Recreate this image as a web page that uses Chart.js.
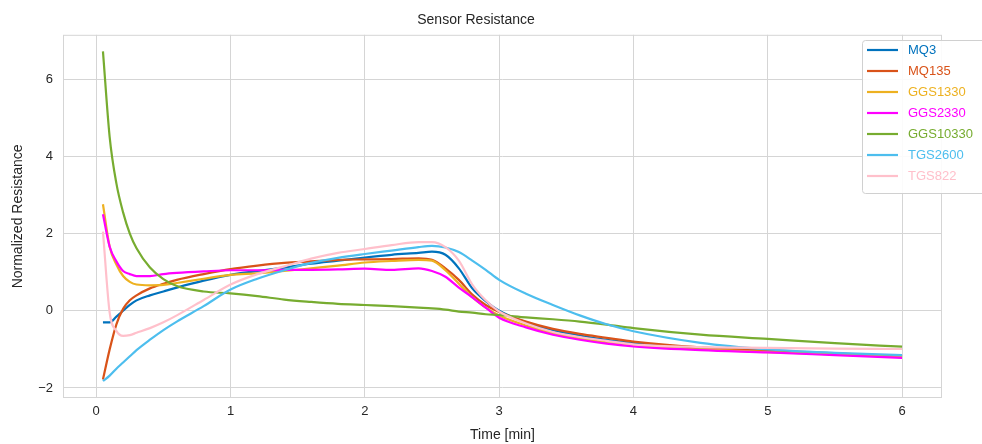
<!DOCTYPE html>
<html>
<head>
<meta charset="utf-8">
<script src="https://cdn.jsdelivr.net/npm/chart.js@4"></script>
<style>
  html, body { margin: 0; padding: 0; background: #fff; }
  #wrap { width: 982px; height: 444px; }
</style>
</head>
<body>
<div id="wrap"><canvas id="sensorChart" width="982" height="444"></canvas></div>
<script>
// time axis [min]
const timeMin = [0.05, 0.1, 0.15, 0.2, 0.25, 0.3, 0.4, 0.5, 0.6, 0.8, 1.0, 1.2, 1.4, 1.6, 1.8, 2.0, 2.2, 2.4, 2.5, 2.6, 2.7, 2.8, 2.9, 3.0, 3.2, 3.4, 3.6, 3.8, 4.0, 4.5, 5.0, 5.5, 6.0];

const mq3      = [-0.3, -0.3, -0.15, 0.0, 0.15, 0.27, 0.4, 0.5, 0.6, 0.78, 0.93, 1.03, 1.12, 1.22, 1.3, 1.38, 1.45, 1.5, 1.53, 1.45, 1.1, 0.58, 0.25, 0.0, -0.3, -0.5, -0.64, -0.75, -0.83, -0.97, -1.05, -1.12, -1.18];
const mq135    = [-1.78, -1.0, -0.35, 0.05, 0.27, 0.4, 0.58, 0.7, 0.8, 0.95, 1.08, 1.17, 1.24, 1.28, 1.32, 1.33, 1.34, 1.36, 1.32, 1.1, 0.8, 0.42, 0.15, -0.03, -0.28, -0.47, -0.6, -0.7, -0.8, -0.95, -1.03, -1.1, -1.18];
const ggs1330  = [2.76, 1.66, 1.2, 0.9, 0.75, 0.68, 0.66, 0.67, 0.72, 0.83, 0.93, 0.97, 1.03, 1.1, 1.17, 1.25, 1.29, 1.32, 1.3, 1.05, 0.7, 0.35, 0.08, -0.12, -0.38, -0.58, -0.72, -0.82, -0.9, -1.0, -1.07, -1.13, -1.2];
const ggs2330  = [2.5, 1.66, 1.28, 1.03, 0.95, 0.9, 0.9, 0.95, 0.98, 1.02, 1.05, 1.05, 1.06, 1.06, 1.07, 1.09, 1.06, 1.1, 1.03, 0.88, 0.6, 0.35, 0.08, -0.18, -0.43, -0.62, -0.75, -0.85, -0.92, -1.02, -1.08, -1.15, -1.22];
const ggs10330 = [6.72, 4.5, 3.3, 2.55, 2.0, 1.62, 1.12, 0.82, 0.64, 0.5, 0.45, 0.38, 0.29, 0.23, 0.18, 0.15, 0.12, 0.08, 0.06, 0.03, -0.02, -0.05, -0.09, -0.11, -0.17, -0.22, -0.28, -0.36, -0.45, -0.62, -0.73, -0.84, -0.93];
const tgs2600  = [-1.82, -1.68, -1.5, -1.34, -1.18, -1.02, -0.75, -0.5, -0.28, 0.12, 0.55, 0.83, 1.05, 1.24, 1.37, 1.47, 1.56, 1.65, 1.68, 1.64, 1.52, 1.3, 1.06, 0.8, 0.44, 0.15, -0.12, -0.35, -0.53, -0.83, -1.0, -1.09, -1.15];
const tgs822   = [2.05, -0.05, -0.52, -0.65, -0.63, -0.57, -0.45, -0.3, -0.12, 0.28, 0.68, 0.95, 1.15, 1.35, 1.5, 1.6, 1.7, 1.78, 1.78, 1.65, 1.3, 0.68, 0.27, -0.02, -0.33, -0.55, -0.68, -0.78, -0.87, -0.94, -0.96, -0.98, -0.99];

const seriesNames  = ['MQ3', 'MQ135', 'GGS1330', 'GGS2330', 'GGS10330', 'TGS2600', 'TGS822'];
const seriesValues = [mq3, mq135, ggs1330, ggs2330, ggs10330, tgs2600, tgs822];
const seriesColors = ['#0072BD', '#D95319', '#EDB120', '#FF00FF', '#77AC30', '#4DBEEE', '#FFC0CB'];

const FONT = "'Liberation Sans', Arial, sans-serif";
const GRID = '#d5d5d5';
const TEXT = '#262626';

const datasets = seriesNames.map((name, i) => ({
    label: name,
    data: timeMin.map((t, k) => ({ x: t, y: seriesValues[i][k] })),
    borderColor: seriesColors[i],
    backgroundColor: seriesColors[i],
    borderWidth: 2.2,
    pointRadius: 0,
    cubicInterpolationMode: 'monotone',
    order: seriesNames.length - i   // later series on top, like matplotlib
}));

// frame on all four sides of the plot area
const framePlugin = {
    id: 'frame',
    beforeDatasetsDraw(chart) {
        const { ctx, chartArea: a } = chart;
        ctx.save();
        ctx.strokeStyle = GRID;
        ctx.lineWidth = 1;
        ctx.strokeRect(a.left + 0.5, a.top + 0.5, a.right - a.left - 1, a.bottom - a.top - 1);
        ctx.restore();
    }
};

// legend drawn inside the upper right corner
const insideLegend = {
    id: 'insideLegend',
    afterDraw(chart) {
        const ctx = chart.ctx;
        const x0 = 862, y0 = 40, w = 130, rowH = 21;
        const h = rowH * seriesNames.length + 6;
        ctx.save();
        ctx.fillStyle = 'rgba(255,255,255,0.9)';
        ctx.strokeStyle = '#d0d0d0';
        ctx.lineWidth = 1;
        ctx.beginPath();
        ctx.roundRect(x0 + 0.5, y0 + 0.5, w, h, 3);
        ctx.fill();
        ctx.stroke();
        ctx.font = '13px ' + FONT;
        ctx.textBaseline = 'middle';
        chart.data.datasets.forEach((ds, i) => {
            const cy = y0 + 10 + i * rowH;
            ctx.strokeStyle = ds.borderColor;
            ctx.lineWidth = 2.2;
            ctx.beginPath();
            ctx.moveTo(x0 + 5, cy);
            ctx.lineTo(x0 + 36, cy);
            ctx.stroke();
            ctx.fillStyle = ds.borderColor;
            ctx.fillText(ds.label, x0 + 46, cy);
        });
        ctx.restore();
    }
};

const minusSign = v => String(v).replace('-', '\u2212');

new Chart(document.getElementById('sensorChart'), {
    type: 'line',
    data: { datasets },
    plugins: [framePlugin, insideLegend],
    options: {
        responsive: false,
        animation: false,
        layout: { padding: { left: 10, right: 40, top: 0, bottom: 0 } },
        plugins: {
            legend: { display: false },
            tooltip: { enabled: false },
            title: {
                display: true,
                text: 'Sensor Resistance',
                color: TEXT,
                font: { family: FONT, size: 14, weight: 'normal' },
                padding: { top: 12, bottom: 6 }
            }
        },
        scales: {
            x: {
                type: 'linear',
                min: -0.2475,
                max: 6.2975,
                afterFit: s => { s.height = 46; },
                grid: { color: GRID, drawTicks: false },
                border: { display: false },
                ticks: {
                    stepSize: 1,
                    includeBounds: false,
                    padding: 6,
                    color: TEXT,
                    font: { family: FONT, size: 13 }
                },
                title: {
                    display: true,
                    text: 'Time [min]',
                    color: TEXT,
                    font: { family: FONT, size: 14 },
                    padding: { top: 5, bottom: 0 }
                }
            },
            y: {
                min: -2.26,
                max: 7.15,
                afterFit: s => { s.width = 53; },
                grid: { color: GRID, drawTicks: false },
                border: { display: false },
                ticks: {
                    stepSize: 2,
                    includeBounds: false,
                    padding: 10,
                    color: TEXT,
                    font: { family: FONT, size: 13 },
                    callback: v => minusSign(v)
                },
                title: {
                    display: true,
                    text: 'Normalized Resistance',
                    color: TEXT,
                    font: { family: FONT, size: 14 },
                    padding: { top: 0, bottom: 4 }
                }
            }
        }
    }
});
</script>
</body>
</html>
